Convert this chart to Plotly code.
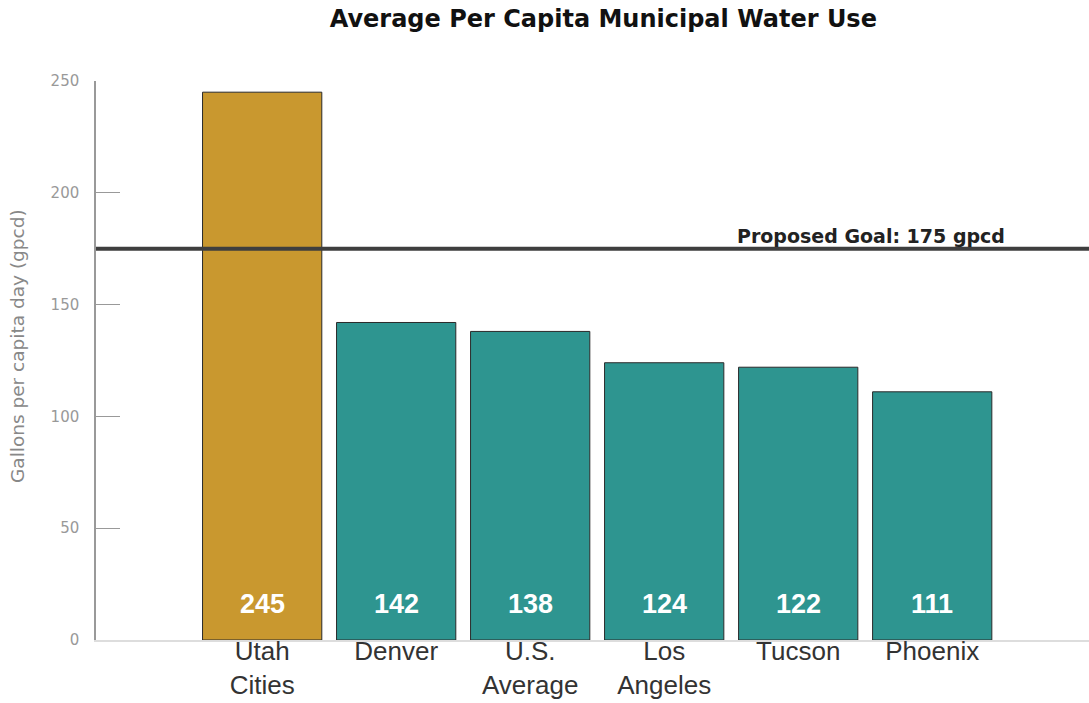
import plotly.graph_objects as go

categories = ["Utah<br>Cities", "Denver", "U.S.<br>Average", "Los<br>Angeles", "Tucson", "Phoenix"]
values = [245, 142, 138, 124, 122, 111]
bar_colors = ["#C9982F", "#2E9590", "#2E9590", "#2E9590", "#2E9590", "#2E9590"]
goal_value = 175
goal_label = "Proposed Goal: 175 gpcd"
y_title = "Gallons per capita day (gpcd)"
y_ticks = [0, 50, 100, 150, 200, 250]

x_idx = list(range(len(categories)))

fig = go.Figure()
fig.add_trace(go.Bar(
    x=x_idx, y=values, width=0.89,
    marker=dict(color=bar_colors, line=dict(color="#2a2a2a", width=1)),
    hoverinfo="skip", showlegend=False,
))

for i, v in zip(x_idx, values):
    fig.add_annotation(x=i, y=0, yshift=36, text=f"<b>{v}</b>", showarrow=False,
                       font=dict(family="Liberation Sans, Arial", size=27, color="white"),
                       yanchor="middle")

fig.add_shape(type="line", xref="paper", x0=0, x1=1, yref="y", y0=goal_value, y1=goal_value,
              line=dict(color="#3e3e3e", width=4))
fig.add_annotation(xref="paper", x=0.780, yref="y", y=goal_value, yshift=13,
                   text=f"<b>{goal_label}</b>", showarrow=False, xanchor="center", yanchor="middle",
                   font=dict(family="DejaVu Sans", size=19, color="#222"))

# y-axis title as rotated annotation
fig.add_annotation(xref="paper", x=-0.0785, yref="paper", y=0.526, text=y_title,
                   textangle=-90, showarrow=False, xanchor="center", yanchor="middle",
                   font=dict(family="DejaVu Sans", size=18.5, color="#888"))

fig.update_layout(
    width=1089, height=703,
    margin=dict(l=96, r=0, t=81, b=63),
    paper_bgcolor="white", plot_bgcolor="white",
    title=dict(text="<b>Average Per Capita Municipal Water Use</b>", x=0.554, xanchor="center",
               y=0.973, yanchor="middle",
               font=dict(family="DejaVu Sans", size=24, color="#111")),
    bargap=0.11,
)
fig.update_xaxes(
    range=[-1.24, 6.17], tickmode="array", tickvals=x_idx, ticktext=categories,
    showgrid=False, zeroline=False, showline=True, linecolor="#dddddd", linewidth=2,
    ticks="", automargin=False, ticklabelstandoff=-13,
    tickfont=dict(family="Liberation Sans, Arial", size=26, color="#333"),
)
fig.update_yaxes(
    range=[0, 250], tickvals=y_ticks, showgrid=False, zeroline=False,
    showline=True, linecolor="#999999", linewidth=1.5,
    ticks="inside", ticklen=24, tickcolor="#999999", tickwidth=1,
    ticklabelstandoff=12, automargin=False,
    tickfont=dict(family="DejaVu Sans", size=15, color="#999"),
)

fig.write_html("out.html")
